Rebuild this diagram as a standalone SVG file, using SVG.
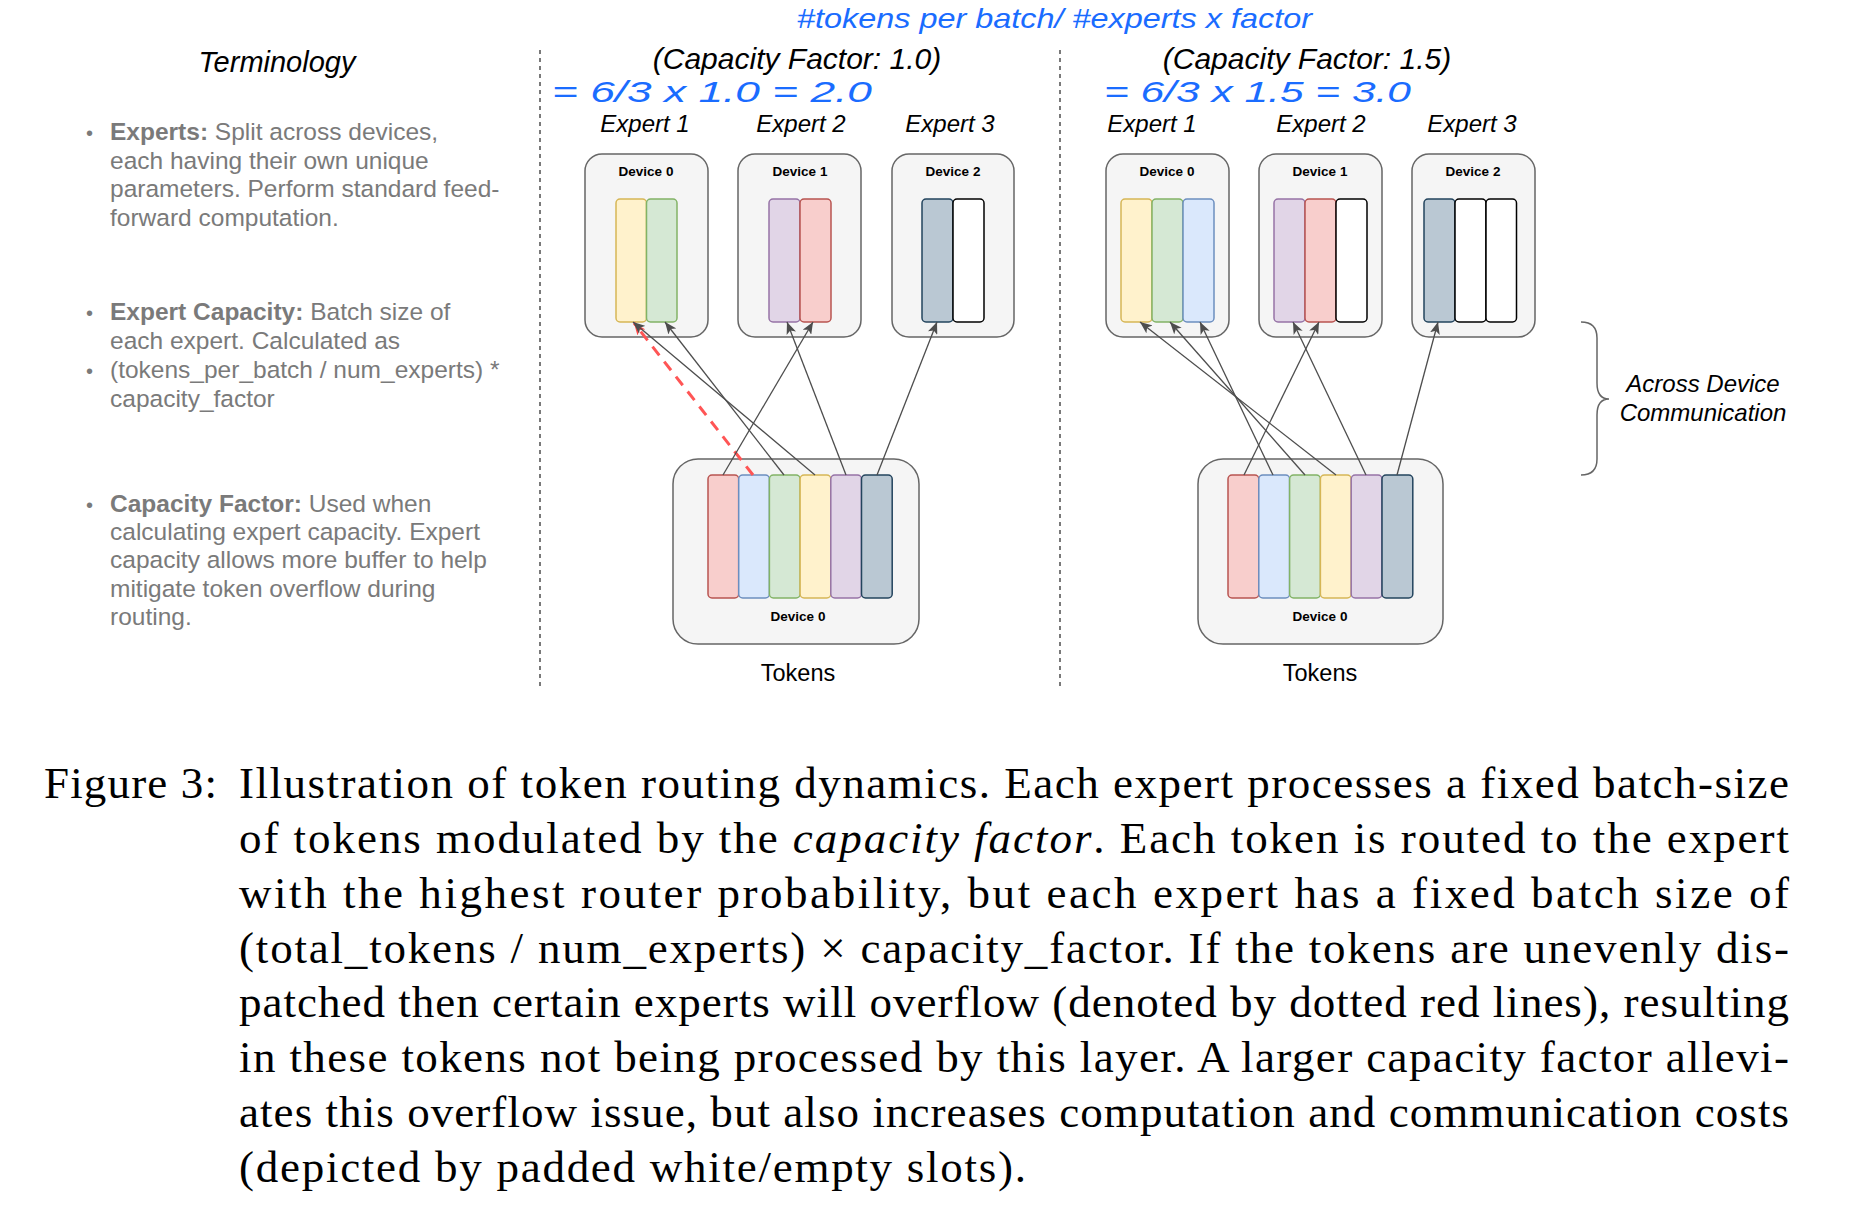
<svg xmlns="http://www.w3.org/2000/svg" width="1870" height="1216" viewBox="0 0 1870 1216">
<style>
.sans{font-family:"Liberation Sans",Arial,Helvetica,sans-serif}
.ital{font-family:"Liberation Sans",Arial,sans-serif;font-style:italic;fill:#000}
.term{font-family:"Liberation Sans",Arial,sans-serif;font-size:24.5px;fill:#7a7a7a}
.term .b{font-weight:bold}
.hand{font-family:"Liberation Sans",Arial,sans-serif;font-style:italic;fill:#1a6cff}
.dev{fill:#f5f5f5;stroke:#666;stroke-width:1.5}
.lbl{font-family:"Liberation Sans",Arial,sans-serif;font-weight:bold;font-size:13.5px;fill:#000;text-anchor:middle}
.y{fill:#fff2cc;stroke:#d6b656;stroke-width:1.5}
.g{fill:#d5e8d4;stroke:#82b366;stroke-width:1.5}
.bl{fill:#dae8fc;stroke:#6c8ebf;stroke-width:1.5}
.r{fill:#f8cecc;stroke:#b85450;stroke-width:1.5}
.p{fill:#e1d5e7;stroke:#9673a6;stroke-width:1.5}
.d{fill:#bac8d3;stroke:#23445d;stroke-width:1.5}
.w{fill:#fff;stroke:#000;stroke-width:1.5}
.conn{stroke:#4d4d4d;stroke-width:1.3;fill:none}
.over{stroke:#ff5555;stroke-width:3;stroke-dasharray:11 8;fill:none}
.cap{font-family:"Liberation Serif","Times New Roman",serif;font-size:45px;fill:#000}
</style>
<defs>
<marker id="ah" viewBox="0 0 12 10" refX="12" refY="5" markerWidth="12" markerHeight="10" markerUnits="userSpaceOnUse" orient="auto">
<path d="M0,0 L12,5 L0,10 L3,5 Z" fill="#4d4d4d"/>
</marker>
<marker id="ahr" viewBox="0 0 12 10" refX="12" refY="5" markerWidth="12" markerHeight="10" markerUnits="userSpaceOnUse" orient="auto">
<path d="M0,0 L12,5 L0,10 L3,5 Z" fill="#ff4444"/>
</marker>
</defs>
<rect width="1870" height="1216" fill="#fff"/>

<!-- Terminology panel -->
<g id="terminology">
<text class="ital" x="277" y="72" font-size="29" text-anchor="middle">Terminology</text>
<g class="term">
<text x="86" y="140" font-size="20">•</text>
<text x="110" y="140"><tspan class="b">Experts:</tspan> Split across devices,</text>
<text x="110" y="168.5">each having their own unique</text>
<text x="110" y="197">parameters. Perform standard feed-</text>
<text x="110" y="225.5">forward computation.</text>
<text x="86" y="320" font-size="20">•</text>
<text x="110" y="320"><tspan class="b">Expert Capacity:</tspan> Batch size of</text>
<text x="110" y="349">each expert. Calculated as</text>
<text x="86" y="378" font-size="20">•</text>
<text x="110" y="378">(tokens_per_batch / num_experts) *</text>
<text x="110" y="407">capacity_factor</text>
<text x="86" y="512" font-size="20">•</text>
<text x="110" y="512"><tspan class="b">Capacity Factor:</tspan> Used when</text>
<text x="110" y="540">calculating expert capacity. Expert</text>
<text x="110" y="568">capacity allows more buffer to help</text>
<text x="110" y="597">mitigate token overflow during</text>
<text x="110" y="625">routing.</text>
</g>
</g>

<!-- dividers -->
<g id="dividers" stroke="#333" stroke-width="1.3" stroke-dasharray="4 4">
<line x1="540" y1="50" x2="540" y2="690"/>
<line x1="1060" y1="50" x2="1060" y2="690"/>
</g>

<!-- handwritten annotations -->
<g id="annotations">
<text class="hand" x="797" y="28" font-size="28" textLength="515" lengthAdjust="spacingAndGlyphs">#tokens per batch/ #experts x factor</text>
<text class="hand" x="552" y="102" font-size="30" textLength="320" lengthAdjust="spacingAndGlyphs">= 6/3 x 1.0 = 2.0</text>
<text class="hand" x="1104" y="102" font-size="30" textLength="307" lengthAdjust="spacingAndGlyphs">= 6/3 x 1.5 = 3.0</text>
<text class="hand" x="693" y="200" font-size="24" text-anchor="middle">2</text>
<text class="hand" x="848" y="197" font-size="24" text-anchor="middle">2</text>
<text class="hand" x="1001" y="197" font-size="24" text-anchor="middle">2</text>
<text class="hand" x="1217" y="200" font-size="26" text-anchor="middle">3</text>
<text class="hand" x="1369" y="200" font-size="26" text-anchor="middle">3</text>
<text class="hand" x="1518" y="204" font-size="26" text-anchor="middle">3</text>
</g>

<!-- headers -->
<g id="headers">
<text class="ital" x="797" y="69" font-size="30" text-anchor="middle">(Capacity Factor: 1.0)</text>
<text class="ital" x="1307" y="69" font-size="30" text-anchor="middle">(Capacity Factor: 1.5)</text>
<text class="ital" x="645" y="132" font-size="24" text-anchor="middle">Expert 1</text>
<text class="ital" x="801" y="132" font-size="24" text-anchor="middle">Expert 2</text>
<text class="ital" x="950" y="132" font-size="24" text-anchor="middle">Expert 3</text>
<text class="ital" x="1152" y="132" font-size="24" text-anchor="middle">Expert 1</text>
<text class="ital" x="1321" y="132" font-size="24" text-anchor="middle">Expert 2</text>
<text class="ital" x="1472" y="132" font-size="24" text-anchor="middle">Expert 3</text>
</g>

<!-- Capacity factor 1.0 experts -->
<g id="cf1-device0">
<rect class="dev" x="585" y="154" width="123" height="183" rx="17"/>
<text class="lbl" x="646" y="176">Device 0</text>
<rect class="y" x="616" y="199" width="30.5" height="123" rx="4"/>
<rect class="g" x="646.5" y="199" width="30.5" height="123" rx="4"/>
</g>
<g id="cf1-device1">
<rect class="dev" x="738" y="154" width="123" height="183" rx="17"/>
<text class="lbl" x="800" y="176">Device 1</text>
<rect class="p" x="769" y="199" width="31" height="123" rx="4"/>
<rect class="r" x="800" y="199" width="31" height="123" rx="4"/>
</g>
<g id="cf1-device2">
<rect class="dev" x="892" y="154" width="122" height="183" rx="17"/>
<text class="lbl" x="953" y="176">Device 2</text>
<rect class="d" x="922" y="199" width="31" height="123" rx="4"/>
<rect class="w" x="953" y="199" width="31" height="123" rx="4"/>
</g>
<g id="cf1-tokens">
<rect class="dev" x="673" y="459" width="246" height="185" rx="25"/>
<rect class="r" x="708" y="475" width="30.7" height="123" rx="4"/>
<rect class="bl" x="738.7" y="475" width="30.7" height="123" rx="4"/>
<rect class="g" x="769.4" y="475" width="30.7" height="123" rx="4"/>
<rect class="y" x="800.1" y="475" width="30.7" height="123" rx="4"/>
<rect class="p" x="830.8" y="475" width="30.7" height="123" rx="4"/>
<rect class="d" x="861.5" y="475" width="30.7" height="123" rx="4"/>
<text class="lbl" x="798" y="621">Device 0</text>
<text class="sans" x="798" y="681" font-size="23.5" text-anchor="middle">Tokens</text>
</g>

<!-- Capacity factor 1.5 experts -->
<g id="cf15-device0">
<rect class="dev" x="1106" y="154" width="123" height="183" rx="17"/>
<text class="lbl" x="1167" y="176">Device 0</text>
<rect class="y" x="1121" y="199" width="31" height="123" rx="4"/>
<rect class="g" x="1152" y="199" width="31" height="123" rx="4"/>
<rect class="bl" x="1183" y="199" width="31" height="123" rx="4"/>
</g>
<g id="cf15-device1">
<rect class="dev" x="1259" y="154" width="123" height="183" rx="17"/>
<text class="lbl" x="1320" y="176">Device 1</text>
<rect class="p" x="1274" y="199" width="31" height="123" rx="4"/>
<rect class="r" x="1305" y="199" width="31" height="123" rx="4"/>
<rect class="w" x="1336" y="199" width="31" height="123" rx="4"/>
</g>
<g id="cf15-device2">
<rect class="dev" x="1412" y="154" width="123" height="183" rx="17"/>
<text class="lbl" x="1473" y="176">Device 2</text>
<rect class="d" x="1424" y="199" width="31" height="123" rx="4"/>
<rect class="w" x="1455" y="199" width="31" height="123" rx="4"/>
<rect class="w" x="1486" y="199" width="30.5" height="123" rx="4"/>
</g>
<g id="cf15-tokens">
<rect class="dev" x="1198" y="459" width="245" height="185" rx="25"/>
<rect class="r" x="1228" y="475" width="30.8" height="123" rx="4"/>
<rect class="bl" x="1258.8" y="475" width="30.8" height="123" rx="4"/>
<rect class="g" x="1289.6" y="475" width="30.8" height="123" rx="4"/>
<rect class="y" x="1320.4" y="475" width="30.8" height="123" rx="4"/>
<rect class="p" x="1351.2" y="475" width="30.8" height="123" rx="4"/>
<rect class="d" x="1382" y="475" width="30.8" height="123" rx="4"/>
<text class="lbl" x="1320" y="621">Device 0</text>
<text class="sans" x="1320" y="681" font-size="23.5" text-anchor="middle">Tokens</text>
</g>

<!-- connectors -->
<g id="connectors">
<line class="over" x1="753" y1="475" x2="634" y2="323" marker-end="url(#ahr)"/>
<line class="conn" x1="723" y1="475" x2="813" y2="322" marker-end="url(#ah)"/>
<line class="conn" x1="784" y1="475" x2="665" y2="322" marker-end="url(#ah)"/>
<line class="conn" x1="815" y1="475" x2="633" y2="322" marker-end="url(#ah)"/>
<line class="conn" x1="846" y1="475" x2="787" y2="322" marker-end="url(#ah)"/>
<line class="conn" x1="877" y1="475" x2="937" y2="322" marker-end="url(#ah)"/>
<line class="conn" x1="1244" y1="475" x2="1319" y2="322" marker-end="url(#ah)"/>
<line class="conn" x1="1273" y1="475" x2="1200" y2="322" marker-end="url(#ah)"/>
<line class="conn" x1="1305" y1="475" x2="1170" y2="322" marker-end="url(#ah)"/>
<line class="conn" x1="1336" y1="475" x2="1140" y2="322" marker-end="url(#ah)"/>
<line class="conn" x1="1366" y1="475" x2="1293" y2="322" marker-end="url(#ah)"/>
<line class="conn" x1="1397" y1="475" x2="1438" y2="322" marker-end="url(#ah)"/>
</g>

<!-- brace -->
<g id="brace">
<path d="M1581,322 Q1597,322 1597,338 L1597,383 Q1597,399 1609,399 Q1597,399 1597,415 L1597,459 Q1597,475 1581,475" fill="none" stroke="#666" stroke-width="1.5"/>
<text class="ital" x="1703" y="392" font-size="24" text-anchor="middle">Across Device</text>
<text class="ital" x="1703" y="421" font-size="24" text-anchor="middle">Communication</text>
</g>

<!-- caption -->
<g id="caption" class="cap">
<text x="44" y="798" textLength="173" lengthAdjust="spacing">Figure 3:</text>
<text x="239" y="798" textLength="1550" lengthAdjust="spacing">Illustration of token routing dynamics. Each expert processes a fixed batch-size</text>
<text x="239" y="853" textLength="1550" lengthAdjust="spacing">of tokens modulated by the <tspan font-style="italic">capacity factor</tspan>. Each token is routed to the expert</text>
<text x="239" y="908" textLength="1550" lengthAdjust="spacing">with the highest router probability, but each expert has a fixed batch size of</text>
<text x="239" y="963" textLength="1550" lengthAdjust="spacing">(total_tokens / num_experts) × capacity_factor. If the tokens are unevenly dis-</text>
<text x="239" y="1017" textLength="1550" lengthAdjust="spacing">patched then certain experts will overflow (denoted by dotted red lines), resulting</text>
<text x="239" y="1072" textLength="1550" lengthAdjust="spacing">in these tokens not being processed by this layer. A larger capacity factor allevi-</text>
<text x="239" y="1127" textLength="1550" lengthAdjust="spacing">ates this overflow issue, but also increases computation and communication costs</text>
<text x="239" y="1182" textLength="787" lengthAdjust="spacing">(depicted by padded white/empty slots).</text>
</g>
</svg>
